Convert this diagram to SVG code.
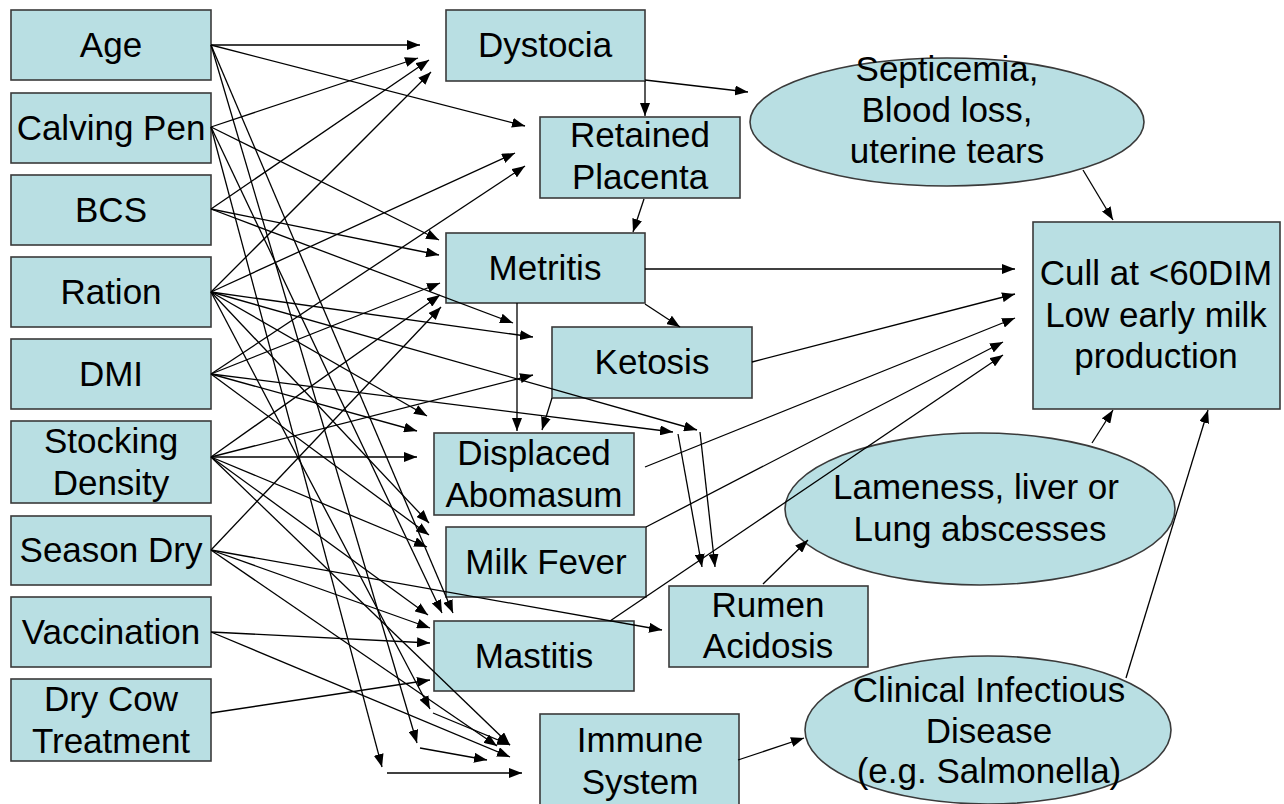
<svg xmlns="http://www.w3.org/2000/svg" width="1284" height="804" viewBox="0 0 1284 804">
<defs>
<style>
.n{fill:#B9DFE3;stroke:#3a3a3a;stroke-width:1.6}
.t{font-family:"Liberation Sans",Arial,sans-serif;font-size:35px;fill:#000;text-anchor:middle}
.c line{stroke:#000;stroke-width:1.3;marker-end:url(#ah)}
</style>
<marker id="ah" viewBox="0 0 13 10" refX="13" refY="5" markerWidth="13" markerHeight="10" markerUnits="userSpaceOnUse" orient="auto"><path d="M0,0 L13,5 L0,10 z" fill="#000"/></marker>
</defs>
<rect width="1284" height="804" fill="#fff"/>
<g id="age"><rect class="n" x="11" y="10" width="200" height="70"/><text class="t" x="111" y="57">Age</text></g>
<g id="calving-pen"><rect class="n" x="11" y="93" width="200" height="70"/><text class="t" x="111" y="140">Calving Pen</text></g>
<g id="bcs"><rect class="n" x="11" y="175" width="200" height="70"/><text class="t" x="111" y="222">BCS</text></g>
<g id="ration"><rect class="n" x="11" y="257" width="200" height="70"/><text class="t" x="111" y="304">Ration</text></g>
<g id="dmi"><rect class="n" x="11" y="339" width="200" height="70"/><text class="t" x="111" y="386">DMI</text></g>
<g id="stocking-density"><rect class="n" x="11" y="421" width="200" height="82"/><text class="t" x="111" y="453">Stocking</text><text class="t" x="111" y="495">Density</text></g>
<g id="season-dry"><rect class="n" x="11" y="516" width="200" height="69"/><text class="t" x="111" y="562">Season Dry</text></g>
<g id="vaccination"><rect class="n" x="11" y="597" width="200" height="70"/><text class="t" x="111" y="644">Vaccination</text></g>
<g id="dry-cow-treatment"><rect class="n" x="11" y="679" width="200" height="82"/><text class="t" x="111" y="711">Dry Cow</text><text class="t" x="111" y="753">Treatment</text></g>
<g id="dystocia"><rect class="n" x="446" y="10" width="199" height="71"/><text class="t" x="545" y="57">Dystocia</text></g>
<g id="retained-placenta"><rect class="n" x="540" y="117" width="200" height="81"/><text class="t" x="640" y="147">Retained</text><text class="t" x="640" y="189">Placenta</text></g>
<g id="metritis"><rect class="n" x="446" y="233" width="199" height="70"/><text class="t" x="545" y="280">Metritis</text></g>
<g id="ketosis"><rect class="n" x="552" y="327" width="200" height="71"/><text class="t" x="652" y="374">Ketosis</text></g>
<g id="displaced-abomasum"><rect class="n" x="434" y="433" width="200" height="82"/><text class="t" x="534" y="465">Displaced</text><text class="t" x="534" y="507">Abomasum</text></g>
<g id="milk-fever"><rect class="n" x="446" y="527" width="200" height="70"/><text class="t" x="546" y="574">Milk Fever</text></g>
<g id="mastitis"><rect class="n" x="434" y="621" width="200" height="70"/><text class="t" x="534" y="668">Mastitis</text></g>
<g id="rumen-acidosis"><rect class="n" x="669" y="586" width="199" height="81"/><text class="t" x="768" y="617">Rumen</text><text class="t" x="768" y="658">Acidosis</text></g>
<g id="immune-system"><rect class="n" x="540" y="714" width="199" height="100"/><text class="t" x="640" y="752">Immune</text><text class="t" x="640" y="794">System</text></g>
<g id="septicemia"><ellipse class="n" cx="947" cy="122" rx="197" ry="64"/><text class="t" x="947" y="81">Septicemia,</text><text class="t" x="947" y="122">Blood loss,</text><text class="t" x="947" y="163">uterine tears</text></g>
<g id="cull"><rect class="n" x="1033" y="222" width="247" height="187"/><text class="t" x="1156" y="285">Cull at &lt;60DIM</text><text class="t" x="1156" y="327">Low early milk</text><text class="t" x="1156" y="368">production</text></g>
<g id="lameness"><ellipse class="n" cx="980" cy="509" rx="195" ry="76"/><text class="t" x="976" y="499">Lameness, liver or</text><text class="t" x="980" y="541">Lung abscesses</text></g>
<g id="clinical-infectious-disease"><ellipse class="n" cx="988" cy="730" rx="183" ry="74"/><text class="t" x="989" y="702">Clinical Infectious</text><text class="t" x="989" y="743">Disease</text><text class="t" x="989" y="783">(e.g. Salmonella)</text></g>
<g id="connectors" class="c">
<line x1="211" y1="45" x2="420" y2="45"/>
<line x1="211" y1="45" x2="525" y2="126"/>
<line x1="211" y1="45" x2="453" y2="613"/>
<line x1="211" y1="45" x2="417" y2="743"/>
<line x1="211" y1="127" x2="418" y2="58"/>
<line x1="211" y1="127" x2="439" y2="240"/>
<line x1="211" y1="127" x2="442" y2="613"/>
<line x1="211" y1="127" x2="382" y2="767"/>
<line x1="211" y1="209" x2="429" y2="60"/>
<line x1="211" y1="209" x2="439" y2="255"/>
<line x1="211" y1="209" x2="513" y2="323"/>
<line x1="211" y1="292" x2="431" y2="72"/>
<line x1="211" y1="292" x2="515" y2="153"/>
<line x1="211" y1="292" x2="533" y2="337"/>
<line x1="211" y1="292" x2="697" y2="430"/>
<line x1="211" y1="292" x2="427" y2="416"/>
<line x1="211" y1="292" x2="429" y2="523"/>
<line x1="211" y1="292" x2="430" y2="709"/>
<line x1="211" y1="374" x2="525" y2="166"/>
<line x1="211" y1="374" x2="440" y2="283"/>
<line x1="211" y1="374" x2="673" y2="432"/>
<line x1="211" y1="374" x2="417" y2="431"/>
<line x1="211" y1="374" x2="429" y2="535"/>
<line x1="211" y1="457" x2="440" y2="295"/>
<line x1="211" y1="457" x2="533" y2="375"/>
<line x1="211" y1="457" x2="417" y2="457"/>
<line x1="211" y1="457" x2="427" y2="547"/>
<line x1="211" y1="457" x2="428" y2="615"/>
<line x1="211" y1="457" x2="510" y2="745"/>
<line x1="211" y1="550" x2="441" y2="307"/>
<line x1="211" y1="550" x2="430" y2="628"/>
<line x1="211" y1="550" x2="662" y2="630"/>
<line x1="211" y1="550" x2="497" y2="746"/>
<line x1="211" y1="632" x2="430" y2="643"/>
<line x1="211" y1="632" x2="510" y2="757"/>
<line x1="211" y1="713" x2="430" y2="680"/>
<line x1="433" y1="713" x2="510" y2="745"/>
<line x1="420" y1="748" x2="487" y2="760"/>
<line x1="387" y1="773" x2="522" y2="773"/>
<line x1="678" y1="434" x2="702" y2="567"/>
<line x1="700" y1="432" x2="715" y2="567"/>
<line x1="645" y1="81" x2="645" y2="116"/>
<line x1="645" y1="80" x2="748" y2="92"/>
<line x1="644" y1="199" x2="633" y2="232"/>
<line x1="645" y1="304" x2="680" y2="327"/>
<line x1="517" y1="303" x2="517" y2="431"/>
<line x1="552" y1="398" x2="542" y2="430"/>
<line x1="645" y1="269" x2="1015" y2="269"/>
<line x1="752" y1="362" x2="1015" y2="294"/>
<line x1="645" y1="467" x2="1015" y2="318"/>
<line x1="646" y1="527" x2="1003" y2="342"/>
<line x1="610" y1="621" x2="1003" y2="355"/>
<line x1="763" y1="584" x2="808" y2="540"/>
<line x1="1083" y1="170" x2="1113" y2="220"/>
<line x1="1092" y1="443" x2="1113" y2="410"/>
<line x1="1126" y1="678" x2="1208" y2="410"/>
<line x1="738" y1="760" x2="804" y2="738"/>
</g>
</svg>
